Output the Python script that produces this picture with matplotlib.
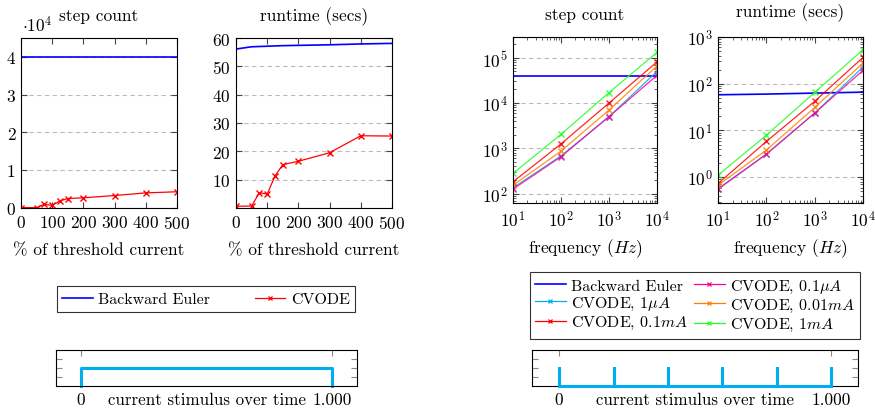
import numpy as np
import matplotlib
matplotlib.use("Agg")
import matplotlib.pyplot as plt
from matplotlib.lines import Line2D
from matplotlib.ticker import LogLocator, FixedLocator, NullFormatter

plt.rcParams["font.family"] = "cmr10"
plt.rcParams["mathtext.fontset"] = "cm"
plt.rcParams["axes.formatter.use_mathtext"] = True
FS = 12.5
LFS = 11.5
plt.rcParams["font.size"] = FS

# threshold-current sweep
pct = [0, 50, 75, 100, 125, 150, 200, 300, 400, 500]
steps_be = [4.0e4] * 10
steps_cv = [100, 100, 1000, 700, 1900, 2500, 2700, 3300, 4000, 4300]
rt_be = [56.1, 56.9, 57.0, 57.1, 57.2, 57.3, 57.4, 57.6, 57.9, 58.1]
rt_cv = [0.6, 0.7, 5.4, 4.9, 11.3, 15.3, 16.5, 19.5, 25.5, 25.4]

# frequency sweep
freq = [10, 100, 1000, 10000]
amp_labels = [r"CVODE, $1\mu A$", r"CVODE, $0.1mA$", r"CVODE, $0.1\mu A$",
              r"CVODE, $0.01mA$", r"CVODE, $1mA$"]
amp_colors = ["#00aeef", "#ff0000", "#ff0099", "#ff8000", "#22ff22"]
fsteps_be = [3.9e4, 3.9e4, 3.9e4, 3.9e4]
fsteps = [
    [133, 680, 5000, 50000],
    [181, 1250, 10000, 81000],
    [125, 650, 5000, 41000],
    [152, 865, 7000, 66000],
    [277, 2040, 17000, 132000],
]
frt_be = [58, 60, 63, 66]
frt = [
    [0.57, 3.1, 23.5, 228],
    [0.73, 5.8, 42, 365],
    [0.55, 3.1, 23.5, 193],
    [0.67, 3.8, 31, 277],
    [1.1, 7.9, 65, 535],
]

# stimulus traces (ms, relative amplitude)
stim_single_t = [0, 0, 1000, 1000]
stim_single_v = [0, 0.5, 0.5, 0]
pulse_starts = [0, 200, 400, 600, 800, 1000]

fig = plt.figure(figsize=(8.75, 4.14), dpi=100)
W, H = 875, 414


def add_ax(x0, y0, x1, y1):
    return fig.add_axes([x0 / W, 1 - y1 / H, (x1 - x0) / W, (y1 - y0) / H])


def style(ax):
    ax.tick_params(which="both", direction="in", top=True, right=True,
                   color="#444444", labelsize=FS, pad=4)
    ax.tick_params(which="major", length=4)
    ax.tick_params(which="minor", length=2.5)
    for s in ax.spines.values():
        s.set_linewidth(0.8)
    ax.yaxis.grid(True, which="major", linestyle=(0, (4, 3)), color="#bbbbbb", lw=0.8)
    ax.set_axisbelow(True)


# panel 1: step count
ax1 = add_ax(21, 39, 177, 209)
style(ax1)
ax1.plot(pct, steps_be, color="#0000ff", lw=1.2)
ax1.plot(pct, steps_cv, color="#ff0000", lw=0.9, marker="x", ms=4, mew=1.0)
ax1.set_xlim(0, 500)
ax1.set_ylim(0, 4.5e4)
ax1.set_yticks([0, 1e4, 2e4, 3e4, 4e4])
ax1.set_yticklabels(["0", "1", "2", "3", "4"])
ax1.set_xticks([0, 100, 200, 300, 400, 500])
ax1.set_title("step count", fontsize=FS, pad=13)
ax1.set_xlabel("% of threshold current", labelpad=8)
fig.text(22 / W, 1 - 32 / H, r"$\cdot 10^4$", fontsize=FS, va="baseline")

# panel 2: runtime
ax2 = add_ax(236, 39, 392, 209)
style(ax2)
ax2.plot(pct, rt_be, color="#0000ff", lw=1.2)
ax2.plot(pct, rt_cv, color="#ff0000", lw=0.9, marker="x", ms=4, mew=1.0)
ax2.set_xlim(0, 500)
ax2.set_ylim(0, 60)
ax2.set_yticks([10, 20, 30, 40, 50, 60])
ax2.set_xticks([0, 100, 200, 300, 400, 500])
ax2.set_title("runtime (secs)", fontsize=FS, pad=13)
ax2.set_xlabel("% of threshold current", labelpad=8)

# panel 3/4: frequency sweeps
ax3 = add_ax(513, 38, 657, 204)
ax4 = add_ax(718, 38, 863, 204)
for ax, be, series, lim in [(ax3, fsteps_be, fsteps, (10 ** 1.79, 10 ** 5.46)),
                            (ax4, frt_be, frt, (0.28, 1000))]:
    ax.set_xscale("log")
    ax.set_yscale("log")
    style(ax)
    ax.plot(freq, be, color="#0000ff", lw=1.2)
    for vals, c in zip(series, amp_colors):
        ax.plot(freq, vals, color=c, lw=0.9, marker="x", ms=4, mew=1.0, alpha=0.85)
    ax.set_xlim(10, 1e4)
    ax.set_ylim(*lim)
    ax.xaxis.set_major_locator(FixedLocator(freq))
    ax.yaxis.set_major_locator(LogLocator(base=10, numticks=10))
    ax.xaxis.set_minor_locator(LogLocator(base=10, subs=np.arange(2, 10), numticks=10))
    ax.yaxis.set_minor_locator(LogLocator(base=10, subs=np.arange(2, 10), numticks=10))
    ax.xaxis.set_minor_formatter(NullFormatter())
    ax.yaxis.set_minor_formatter(NullFormatter())
    ax.set_xlabel(r"frequency $(Hz)$", labelpad=5)
ax3.set_title("step count", fontsize=FS, pad=13)
ax4.set_title("runtime (secs)", fontsize=FS, pad=15)

# legends
leg_kw = dict(frameon=True, fancybox=False, edgecolor="black", fontsize=LFS,
              handlelength=1.9, handletextpad=0.35, borderpad=0.35,
              borderaxespad=0)
h_be = Line2D([], [], color="#0000ff", lw=1.2)
h_cv = Line2D([], [], color="#ff0000", lw=0.9, marker="x", ms=3, mew=0.9)
fig.legend([h_be, h_cv], ["Backward Euler", "CVODE"], ncol=2,
           loc="center", bbox_to_anchor=((56 + 356) / 2 / W, 1 - 300 / H),
           columnspacing=2.8, **leg_kw)
amp_h = {lab: Line2D([], [], color=c, lw=0.9, marker="x", ms=3, mew=0.9)
         for lab, c in zip(amp_labels, amp_colors)}
order = [r"CVODE, $1\mu A$", r"CVODE, $0.1mA$", r"CVODE, $0.1\mu A$",
         r"CVODE, $0.01mA$", r"CVODE, $1mA$"]
fig.legend([h_be] + [amp_h[o] for o in order], ["Backward Euler"] + order,
           ncol=2, loc="center",
           bbox_to_anchor=((533 + 857) / 2 / W, 1 - 306.5 / H),
           columnspacing=0.4, labelspacing=0.15, **leg_kw)
for lg in fig.legends:
    lg.get_frame().set_linewidth(0.8)

# stimulus strips
s1 = add_ax(56, 351, 357, 387)
s2 = add_ax(532, 351, 858, 387)
s1.plot(stim_single_t, stim_single_v, color="#00aeef", lw=2.2, clip_on=False)
pt, pv = [], []
for t0 in pulse_starts:
    pt += [t0, t0, t0 + 1, t0 + 1]
    pv += [0, 0.5, 0.5, 0]
s2.plot(pt, pv, color="#00aeef", lw=2.2, clip_on=False, zorder=5)
for s in (s1, s2):
    s.set_xlim(-100, 1100)
    s.set_ylim(0, 1)
    s.set_xticks([0, 1000])
    s.set_xticklabels(["0", "1.000"])
    s.set_yticks([0.25, 0.5, 0.75])
    s.set_yticklabels([])
    s.tick_params(direction="in", top=True, right=True, color="#888888",
                  length=4, labelsize=FS, pad=4)
    for sp in s.spines.values():
        sp.set_linewidth(0.8)
    s.text(0.5, -0.38, "current stimulus over time", transform=s.transAxes,
           ha="center", va="center", fontsize=12.2)

fig.savefig("out.png", dpi=100)
